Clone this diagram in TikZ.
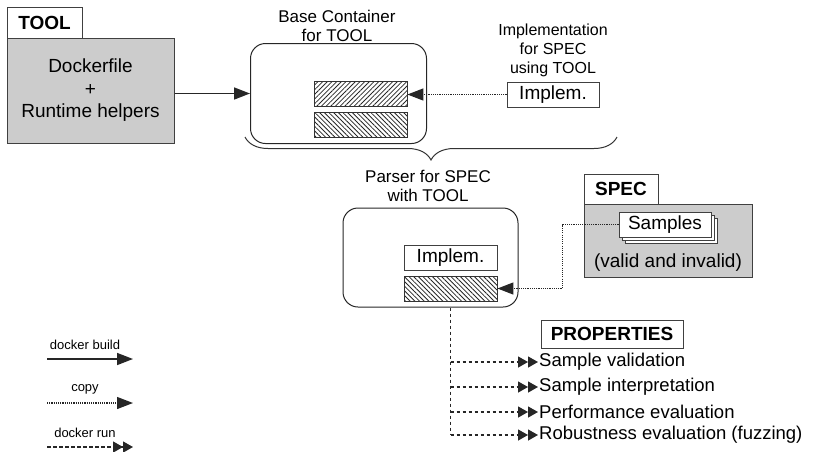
\documentclass[tikz,border=0pt]{standalone}
\usepackage{fontspec}
\setmainfont{Liberation Sans}
\usetikzlibrary{arrows.meta,patterns.meta,shadows,decorations.pathreplacing}
\begin{document}
\begin{tikzpicture}[x=1pt,y=-1pt,
  font=\fontsize{19pt}{22.5pt}\selectfont,
  lbl/.style={draw=black!75,fill=white,line width=1pt,inner sep=0pt,font=\fontsize{19pt}{22pt}\selectfont\bfseries},
  gbox/.style={draw=black!75,fill=black!20,line width=1pt,inner sep=0pt,align=center},
  cont/.style={draw=black!85,line width=1pt,rounded corners=15pt,minimum width=176pt,minimum height=100pt},
  hne/.style={draw=black!80,line width=0.9pt,pattern={Lines[angle=45,distance=3.3pt,line width=0.8pt]},pattern color=black!85,minimum width=93pt,minimum height=25pt},
  hnw/.style={draw=black!80,line width=0.9pt,pattern={Lines[angle=-45,distance=3.3pt,line width=0.8pt]},pattern color=black!85,minimum width=93pt,minimum height=25pt},
  impl/.style={draw=black!75,fill=white,line width=1pt,inner sep=0pt,minimum width=92pt,minimum height=25pt},
  capt/.style={align=center,inner sep=0pt},
  item/.style={inner sep=1pt,font=\fontsize{18.5pt}{21pt}\selectfont},
  leg/.style={inner sep=0pt,font=\fontsize{13pt}{15pt}\selectfont},
  buildl/.style={draw=black!85,line width=1.6pt,-{Triangle[length=16pt,width=12pt]}},
  copyl/.style={draw=black!85,line width=1.3pt,dash pattern=on 1.1pt off 1.1pt,-{Triangle[length=16pt,width=12pt]}},
  runl/.style={draw=black!85,line width=1.3pt,dash pattern=on 3.5pt off 2.5pt,-{Triangle[length=10pt,width=11pt]Triangle[length=10pt,width=11pt]}}]
  \useasboundingbox (0,0) rectangle (820,451);
  % tool
  \node[gbox,minimum width=167pt,minimum height=105pt] (tool) at (90.5,90.5) {Dockerfile\\+\\Runtime helpers};
  \node[lbl,minimum width=75pt,minimum height=31pt] (toollbl) at (44.5,22.5) {TOOL};
  % base container
  \node[capt,font=\fontsize{17pt}{19pt}\selectfont] (basecap) at (337,26) {Base Container\\for TOOL};
  \node[cont] (base) at (338.5,93.5) {};
  \node[hne] (h1) at (360.5,93.5) {};
  \node[hnw] (h2) at (360.5,124.5) {};
  \draw[buildl] (tool.east |- base.west) -- (base.west);
  % implementation
  \node[capt,font=\fontsize{16pt}{19pt}\selectfont] (implcap) at (553,50) {Implementation\\for SPEC\\using TOOL};
  \node[impl] (impla) at (553,94.5) {Implem.};
  \draw[copyl] (impla.west) -- (impla.west -| h1.east);
  % brace
  \coordinate (bl) at (245,137);
  \coordinate (br) at (617,137);
  \draw[black!80,line width=1pt,decorate,decoration={brace,mirror,amplitude=23pt}] (bl) -- (br);
  % parser
  \node[capt,font=\fontsize{17pt}{18.5pt}\selectfont] (parsercap) at (428,186) {Parser for SPEC\\with TOOL};
  \node[cont,minimum width=175pt,minimum height=99pt] (parser) at (430.5,257.5) {};
  \node[impl,minimum width=93pt] (implb) at (450.5,257.5) {Implem.};
  \node[hnw] (h3) at (450.5,288.5) {};
  % spec
  \node[gbox,minimum width=168pt,minimum height=73pt] (spec) at (668,240.5) {};
  \node[lbl,minimum width=74pt,minimum height=30pt] (speclbl) at (621,189) {SPEC};
  \node[impl,double copy shadow={shadow xshift=3pt,shadow yshift=-3pt,fill=white,draw=black!75,line width=1pt}] (samples) at (665,224.5) {Samples};
  \node[capt] (valid) at (668,263) {(valid and invalid)};
  \draw[copyl] (samples.west) -- ++(-56,0) |- (h3.east);
  % properties
  \node[lbl,minimum width=142pt,minimum height=28pt] (props) at (612,334) {PROPERTIES};
  \node[item,anchor=west] (p1) at (538,362) {Sample validation};
  \node[item,anchor=west] (p2) at (538,387) {Sample interpretation};
  \node[item,anchor=west] (p3) at (538,412) {Performance evaluation};
  \node[item,anchor=west] (p4) at (538,435) {Robustness evaluation (fuzzing)};
  \coordinate (trunk) at (parser.south -| h3.center);
  \draw[black!85,line width=1.3pt,dash pattern=on 3.5pt off 2.5pt] (trunk) -- (trunk |- p4.west);
  \foreach \i in {1,...,4}
    \draw[runl] (trunk |- p\i.west) -- (p\i.west);
  % legend
  \node[leg] (lbuild) at (85,345) {docker build};
  \coordinate (b1) at (47,359);
  \coordinate (b2) at (133,359);
  \draw[buildl] (b1) -- (b2);
  \node[leg] (lcopy) at (85,389) {copy};
  \coordinate (c1) at (47,403);
  \coordinate (c2) at (133,403);
  \draw[copyl] (c1) -- (c2);
  \node[leg] (lrun) at (85,433) {docker run};
  \coordinate (r1) at (47,447);
  \coordinate (r2) at (133,447);
  \draw[runl] (r1) -- (r2);
\end{tikzpicture}
\end{document}
